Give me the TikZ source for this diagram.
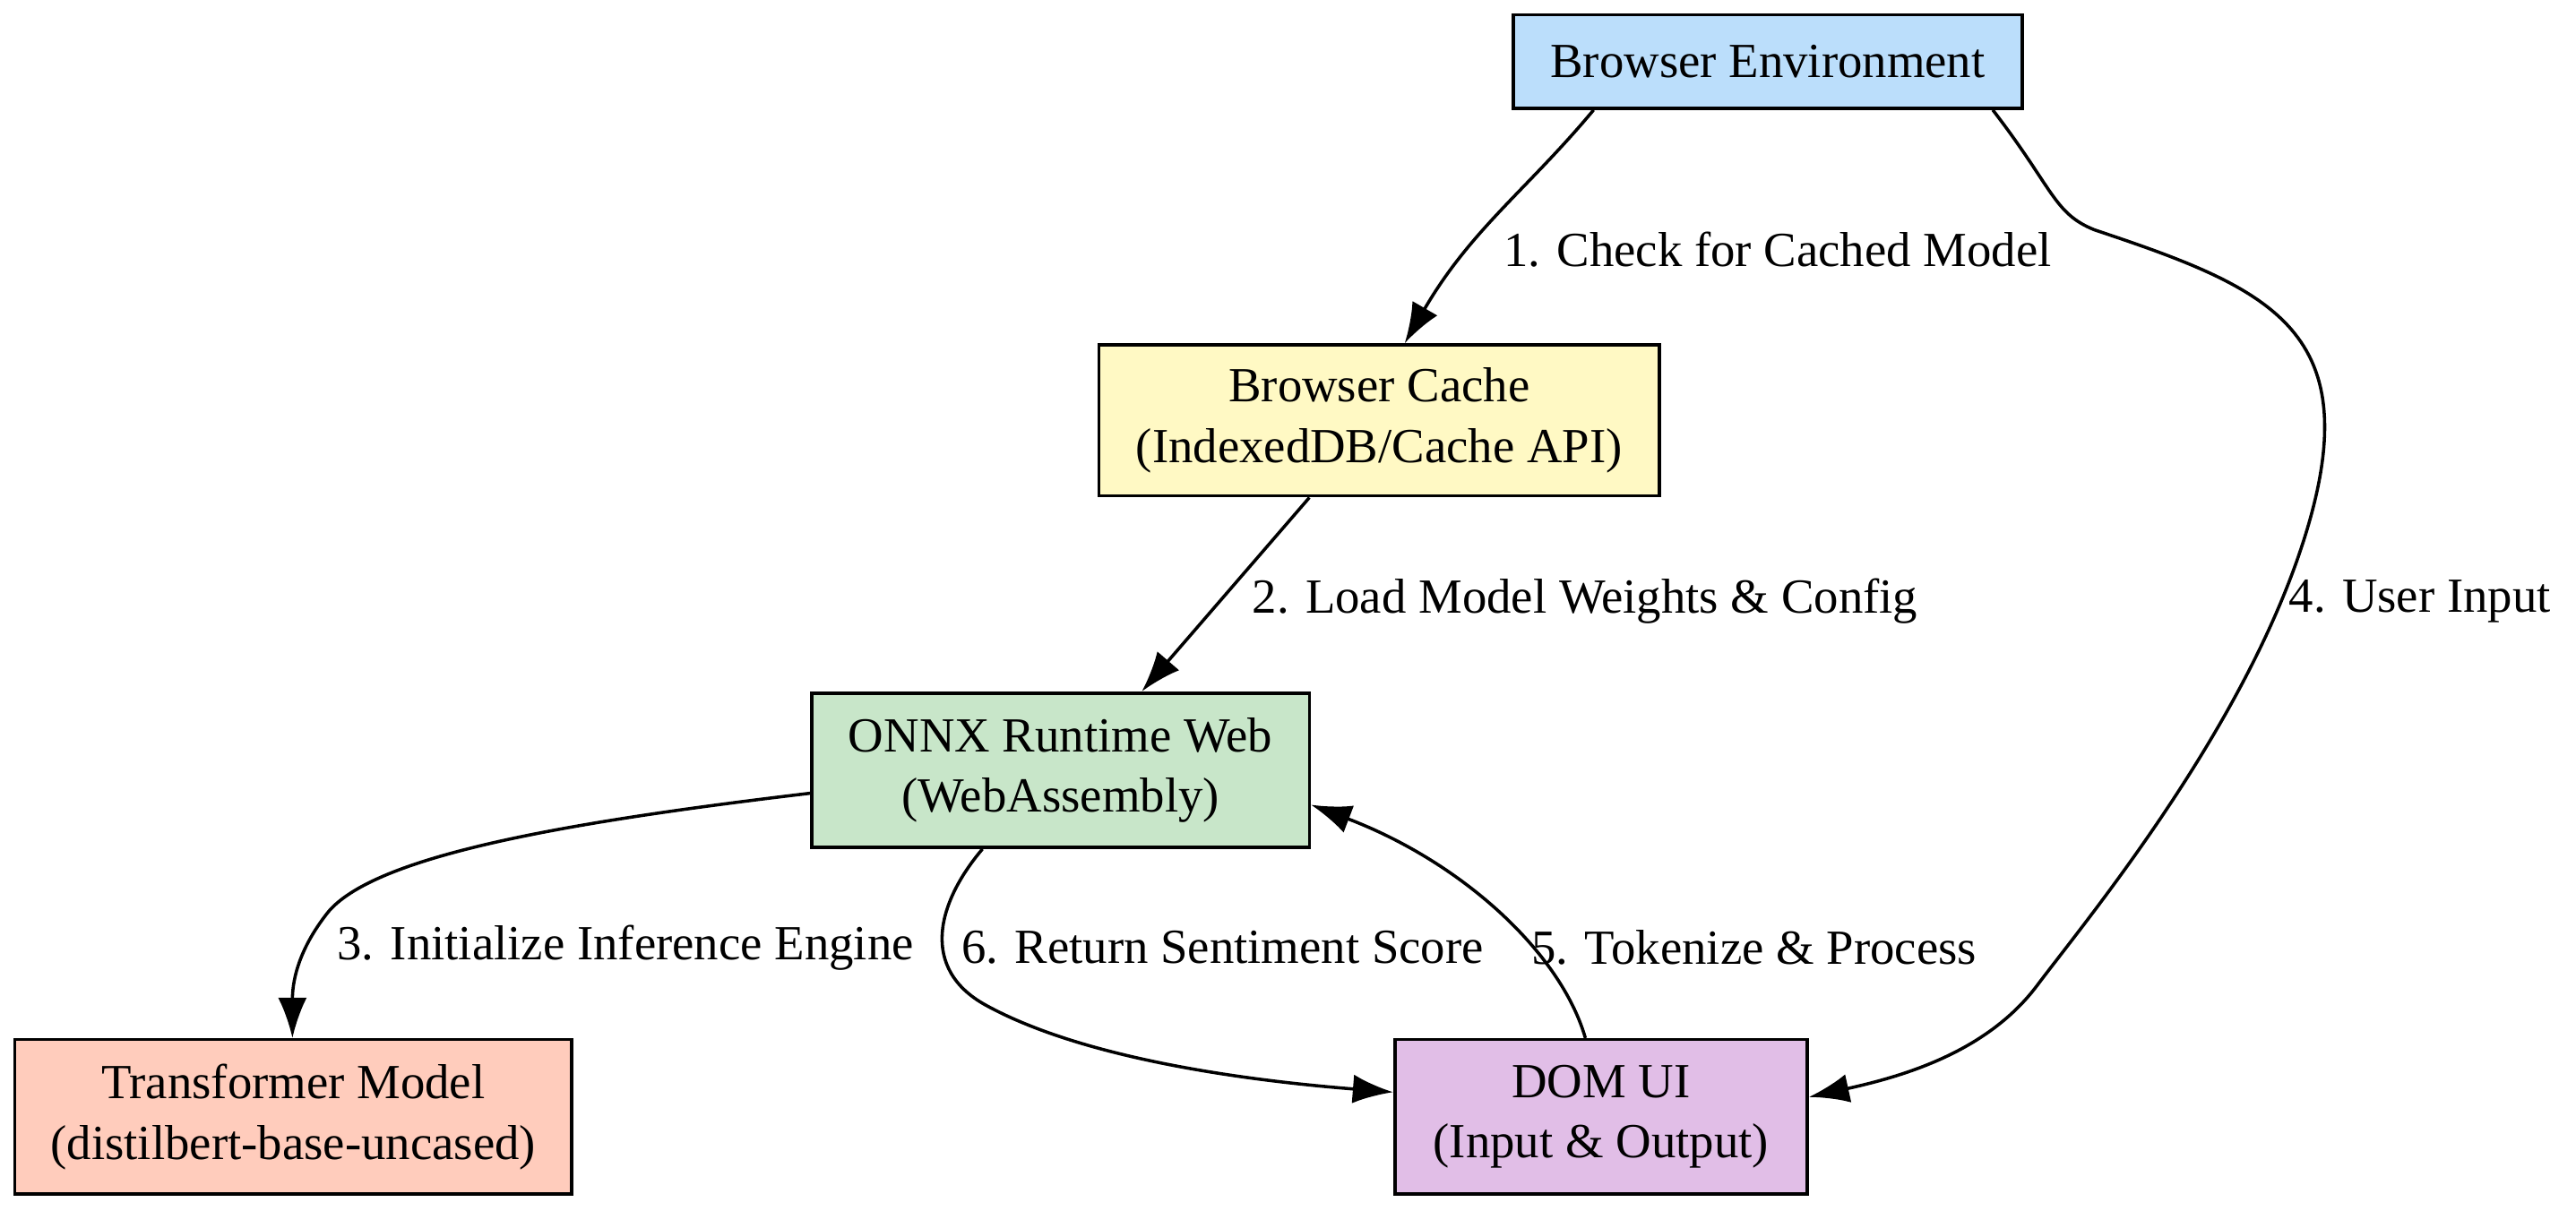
\documentclass[tikz,border=0pt]{standalone}
\usepackage{fontspec}
\setmainfont{Liberation Serif}
\usetikzlibrary{arrows.meta}
\definecolor{envblue}{HTML}{BBDEFB}
\definecolor{cacheyellow}{HTML}{FFF9C4}
\definecolor{onnxgreen}{HTML}{C8E6C9}
\definecolor{modelsalmon}{HTML}{FFCCBC}
\definecolor{domviolet}{HTML}{E1BEE7}

\tikzset{
	box/.style = {draw=black, line width=1.1pt, align=center, inner sep=0pt, font=\fontsize{17}{21}\selectfont},
	flow/.style = {line width=1.1pt, -{Latex[length=14pt,width=10pt]}},
	lbl/.style = {font=\fontsize{17}{21}\selectfont, anchor=west, inner sep=0pt}
}

\begin{document}
\begin{tikzpicture}[x=0.02cm, y=-0.02cm]
	\useasboundingbox (0,0) rectangle (1568,737);
	% components
	\node[box, fill=envblue, minimum width=6.2cm, minimum height=1.14cm] (env) at (1076,37.5) {Browser Environment};
	\node[box, fill=cacheyellow, minimum width=6.82cm, minimum height=1.84cm] (cache) at (839.5,256) {Browser Cache\\(IndexedDB/Cache API)};
	\node[box, fill=onnxgreen, minimum width=6.06cm, minimum height=1.88cm] (onnx) at (645.5,469) {ONNX Runtime Web\\(WebAssembly)};
	\node[box, fill=modelsalmon, minimum width=6.78cm, minimum height=1.88cm] (model) at (178.5,680) {Transformer Model\\(distilbert-base-uncased)};
	\node[box, fill=domviolet, minimum width=5.02cm, minimum height=1.88cm] (dom) at (974.5,680) {DOM UI\\(Input \& Output)};

	% connectors
	\draw[flow] (env.south -| 970,0) .. controls (930,115) and (895,140) .. (cache.north -| 855,0);
	\draw[flow] (cache.south -| 797,0) -- (onnx.north -| 695,0);
	\draw[flow] (onnx.west |- 0,483) .. controls (350,500) and (230,520) .. (200,555) .. controls (180,580) and (178,600) .. (model.north -| 178,0);
	\draw[flow] (env.south -| 1213,0) .. controls (1250,115) and (1250,130) .. (1275,140) .. controls (1380,175) and (1440,200) .. (1405,320) .. controls (1370,440) and (1270,560) .. (1240,600) .. controls (1210,640) and (1160,655) .. (dom.east |- 0,668);
	\draw[flow] (dom.north -| 965,0) .. controls (950,580) and (890,525) .. (onnx.east |- 0,490);
	\draw[flow] (onnx.south -| 598,0) .. controls (570,550) and (560,590) .. (600,612) .. controls (660,645) and (760,658) .. (dom.west |- 0,665);

	% labels
	\node[lbl] (l1) at (915,152) {1. Check for Cached Model};
	\node[lbl] (l2) at (762,366) {2. Load Model Weights \& Config};
	\node[lbl] (l3) at (205,577) {3. Initialize Inference Engine};
	\node[lbl] (l4) at (1393,366) {4. User Input};
	\node[lbl] (l5) at (932,577) {5. Tokenize \& Process};
	\node[lbl] (l6) at (585,577) {6. Return Sentiment Score};
\end{tikzpicture}
\end{document}
